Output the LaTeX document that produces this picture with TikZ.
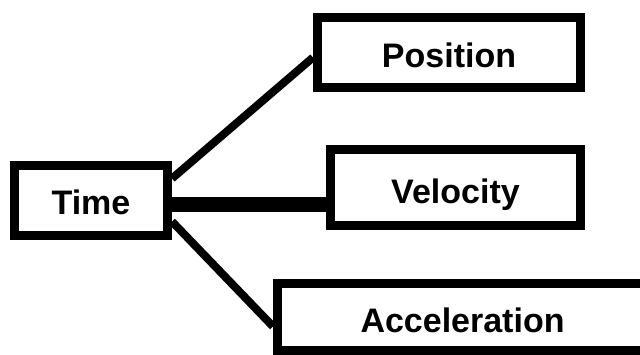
\documentclass[tikz,border=0pt]{standalone}
\usepackage{fontspec}
\setmainfont{Liberation Sans}
\newcommand{\lowered}[2]{\raisebox{-#1}[\height][0pt]{#2}}
\tikzset{
  quantity/.style={draw=black, line width=9pt, rectangle, minimum height=70pt,
    inner sep=0pt, font=\fontsize{34}{40}\selectfont\bfseries},
  link/.style={line width=8pt}
}
\begin{document}
\begin{tikzpicture}[x=1pt,y=-1pt]
\clip (0,0) rectangle (640,354);
\fill[white] (0,0) rectangle (640,354);
\node[quantity, minimum width=153pt] (time) at (91,200.5) {\lowered{2pt}{Time}};
\node[quantity, minimum width=263pt] (pos) at (449,52.5) {\lowered{3pt}{Position}};
\node[quantity, minimum width=250pt, minimum height=76pt] (vel) at (455.5,187.5) {\lowered{4pt}{Velocity}};
\node[quantity, minimum width=380pt, minimum height=67pt, text width=360pt, align=left] (acc) at (467.5,316.5) {\hspace*{73pt}\lowered{4pt}{Acceleration}};
\draw[link] ([yshift=22pt]time.east) -- ([yshift=-5pt]pos.west);
\draw[line width=15pt] ([yshift=-4pt]time.east) -- ([yshift=-17pt]vel.west);
\draw[link] ([yshift=-21pt]time.east) -- ([yshift=-10pt]acc.west);
\end{tikzpicture}
\end{document}
